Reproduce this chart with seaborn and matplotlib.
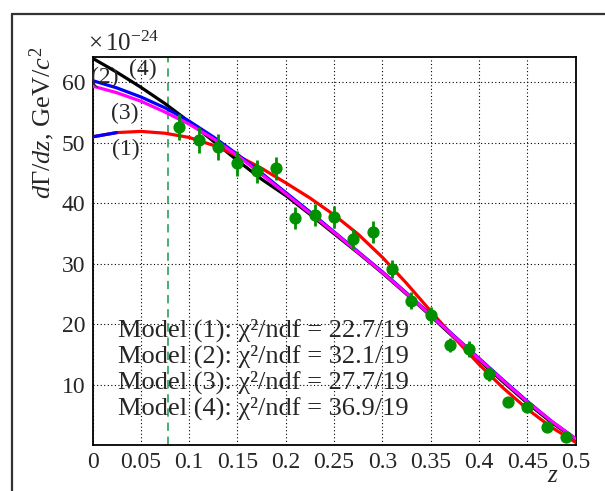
import numpy as np
import pandas as pd
import matplotlib
matplotlib.use("Agg")
import matplotlib.pyplot as plt
import seaborn as sns
from matplotlib.lines import Line2D
from matplotlib.ticker import FixedLocator, FixedFormatter, MultipleLocator

# ---------------- data ----------------
z_data = [0.09, 0.11, 0.13, 0.15, 0.17, 0.19, 0.21, 0.23, 0.25, 0.27, 0.29,
          0.31, 0.33, 0.35, 0.37, 0.39, 0.41, 0.43, 0.45, 0.47, 0.49]
y_data = [52.6, 50.5, 49.3, 46.6, 45.3, 45.8, 37.6, 38.1, 37.7, 34.1, 35.3,
          29.1, 23.9, 21.5, 16.6, 15.9, 11.8, 7.2, 6.3, 3.0, 1.4]
y_err = [2.2, 2.2, 2.2, 2.1, 1.9, 1.9, 1.85, 1.8, 1.8, 1.6, 1.8,
         1.5, 1.4, 1.4, 1.2, 1.3, 1.1, 0.6, 0.6, 0.5, 0.4]

z_curve = [0.0, 0.025, 0.05, 0.075, 0.1, 0.125, 0.15, 0.175, 0.2, 0.225, 0.25,
           0.275, 0.3, 0.325, 0.35, 0.375, 0.4, 0.425, 0.45, 0.475, 0.5]
model1 = [51.0, 51.7, 51.9, 51.6, 50.9, 49.6, 47.9, 45.8, 43.4, 40.9, 38.1,
          34.9, 31.1, 26.8, 22.2, 17.7, 13.4, 9.5, 6.0, 3.0, 0.5]
model2 = [60.3, 59.1, 57.6, 55.8, 53.6, 51.0, 48.1, 45.0, 41.8, 38.6, 35.3,
          32.0, 28.7, 25.2, 21.6, 18.0, 14.4, 10.8, 7.3, 4.0, 1.1]
model3 = [59.4, 58.3, 56.9, 55.1, 53.1, 50.7, 47.9, 44.8, 41.6, 38.4, 35.2,
          31.9, 28.6, 25.1, 21.5, 17.9, 14.3, 10.7, 7.2, 4.0, 1.1]
model4 = [64.0, 61.7, 59.2, 56.5, 53.5, 50.3, 47.1, 44.0, 41.3, 38.2, 35.0,
          31.8, 28.5, 25.0, 21.4, 17.7, 14.1, 10.5, 7.0, 3.8, 1.0]
stub_z = [0.0, 0.025]
stub_y = [51.0, 51.7]

cut_z = 0.078

model_labels = ["(1)", "(2)", "(3)", "(4)"]
label_pos = [(0.034, 48.9), (0.0124, 60.8), (0.033, 54.8), (0.052, 62.2)]
chi2_text = ["Model (1): χ²/ndf = 22.7/19",
             "Model (2): χ²/ndf = 32.1/19",
             "Model (3): χ²/ndf = 27.7/19",
             "Model (4): χ²/ndf = 36.9/19"]
xtick_vals = [0, 0.05, 0.1, 0.15, 0.2, 0.25, 0.3, 0.35, 0.4, 0.45, 0.5]
xtick_labels = ["0", "0.05", "0.1", "0.15", "0.2", "0.25", "0.3", "0.35", "0.4", "0.45", "0.5"]
ytick_vals = [10, 20, 30, 40, 50, 60]
ytick_labels = ["10", "20", "30", "40", "50", "60"]

# ---------------- style ----------------
sns.set_theme(style="white")
plt.rcParams["font.family"] = ["Liberation Serif", "DejaVu Serif"]
plt.rcParams["mathtext.fontset"] = "custom"
plt.rcParams["mathtext.rm"] = "Liberation Serif"
plt.rcParams["mathtext.it"] = "Liberation Serif:italic"
plt.rcParams["mathtext.bf"] = "Liberation Serif:bold"

FS = 17
W, H = 605, 491
fig = plt.figure(figsize=(W / 100, H / 100), dpi=100)
fig.patch.set_facecolor("white")
x0, x1, ytop, ybot = 92.5, 575.5, 57.0, 445.3
ax = fig.add_axes([x0 / W, 1 - ybot / H, (x1 - x0) / W, (ybot - ytop) / H])
ax.set_facecolor("white")

# grid
ax.set_axisbelow(True)
ax.grid(True, which="major", color="black", linestyle=(0, (1, 2.2)), linewidth=0.8)

# dashed cut line
ax.axvline(cut_z, color="#2aa05a", linestyle=(0, (5, 3.5)), linewidth=1.2, zorder=2)

lw = 2.3
df = pd.DataFrame({"z": z_curve, "m1": model1, "m2": model2, "m3": model3, "m4": model4})
sns.lineplot(data=df, x="z", y="m4", color="black", linewidth=lw, ax=ax, zorder=3)
sns.lineplot(data=df, x="z", y="m1", color="#ff0000", linewidth=lw, ax=ax, zorder=4)
sns.lineplot(data=df, x="z", y="m2", color="#0000ff", linewidth=lw, ax=ax, zorder=5)
sns.lineplot(data=df, x="z", y="m3", color="#ff00ff", linewidth=lw, ax=ax, zorder=6)
sns.lineplot(x=stub_z, y=stub_y, color="#0000ff", linewidth=lw, ax=ax, zorder=6)

# data points
ax.errorbar(z_data, y_data, yerr=y_err, fmt="o", color="#009000", ms=7.8,
            elinewidth=2.0, capsize=0, zorder=8)

for lab, (lx, ly) in zip(model_labels, label_pos):
    ax.text(lx, ly, lab, fontsize=FS, ha="center", va="center", zorder=9)

# axes setup
ax.set_xlim(0, 0.5)
ax.set_ylim(0, 64.2)
ax.xaxis.set_major_locator(FixedLocator(xtick_vals))
ax.xaxis.set_major_formatter(FixedFormatter(xtick_labels))
ax.xaxis.set_minor_locator(MultipleLocator(0.01))
ax.yaxis.set_major_locator(FixedLocator(ytick_vals))
ax.yaxis.set_major_formatter(FixedFormatter(ytick_labels))
ax.yaxis.set_minor_locator(MultipleLocator(2))
ax.tick_params(which="major", direction="in", length=7, width=1.1, labelsize=FS,
               top=False, right=False, color="black", pad=5)
ax.tick_params(which="minor", direction="in", length=3.5, width=1.0,
               top=False, right=False, color="black")
ax.tick_params(axis="y", which="minor", length=5)
for s in ax.spines.values():
    s.set_color("black")
    s.set_linewidth(1.3)
ax.set_xlabel("")
ax.set_ylabel("")

# axis titles
fig.text(553 / W, 1 - 476 / H, "$z$", fontsize=FS + 1, ha="center", va="center")
fig.text(42 / W, 1 - 47 / H, "$d\\Gamma/dz$, GeV/$c^{2}$", fontsize=19,
         rotation=90, ha="center", va="top")
fig.text(88 / W, 1 - 44 / H, "$\\times\\,10^{-24}$", fontsize=18, ha="left", va="center")

# chi2 legend (one text block, four lines)
fig.text(118 / W, 1 - 319 / H, "\n".join(chi2_text), fontsize=19, ha="left", va="top",
         linespacing=1.14, zorder=10)

# canvas frame
fig.add_artist(Line2D([12 / W, 1.0], [1 - 14 / H, 1 - 14 / H], transform=fig.transFigure,
                      color="#333333", linewidth=1.6))
fig.add_artist(Line2D([12 / W, 12 / W], [0.0, 1 - 14 / H], transform=fig.transFigure,
                      color="#333333", linewidth=1.6))

fig.savefig("out.png", dpi=100)
